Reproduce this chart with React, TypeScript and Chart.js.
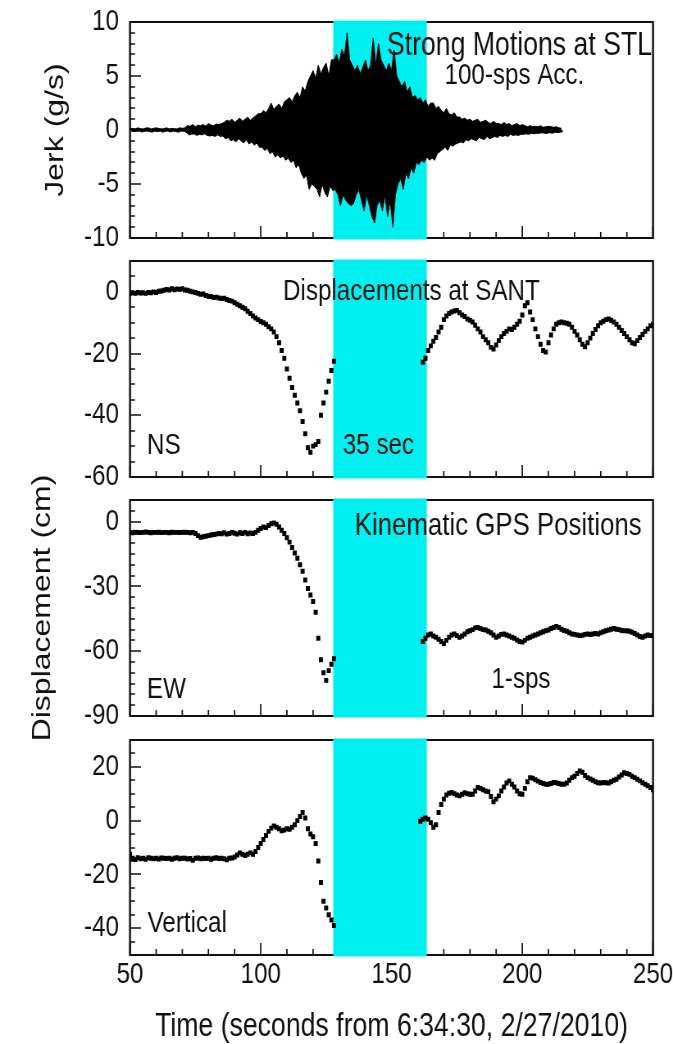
import React, { useEffect, useRef } from 'react';
import { Chart, registerables } from 'chart.js';

Chart.register(...registerables);

// ---------------- data ----------------
const timeMin = 50;
const timeMax = 250;
const xTickStep = 10;
const xTickLabels = [50, 100, 150, 200, 250];
const xTitle = 'Time (seconds from 6:34:30, 2/27/2010)';
const gapStart = 127.7;
const gapEnd = 163.5;

// jerk envelope, one value per second starting at jerkStart (100-sps record summarised by its peaks)
const jerkStart = 50;
const jerkUpper = [
  0.12, 0.15, 0.1, 0.2, 0.12, 0.1, 0.18, 0.2, 0.1, 0.15,
  0.2, 0.15, 0.1, 0.12, 0.2, 0.1, 0.15, 0.12, 0.1, 0.2,
  0.15, 0.2, 0.4, 0.35, 0.5, 0.3, 0.45, 0.4, 0.5, 0.35,
  0.6, 0.45, 0.4, 0.55, 0.5, 0.6, 0.7, 0.9, 0.8, 1.0,
  0.7, 0.9, 1.1, 0.8, 1.0, 1.2, 0.9, 1.1, 1.3, 1.5,
  1.5, 1.8, 1.6, 2.0, 2.5, 1.9, 2.2, 2.4, 2.0, 2.6,
  2.8, 3.0, 2.6, 3.2, 3.5, 3.0, 4.0, 3.6, 4.5, 5.0,
  5.5, 4.8, 6.0, 5.2, 5.8, 6.2, 5.0, 6.5, 6.5, 7.0,
  6.2, 7.5, 6.8, 9.0, 6.5, 6.0, 5.5, 6.0, 5.2, 5.8,
  6.5, 5.5, 6.0, 8.5, 6.0, 8.0, 6.5, 6.0, 5.5, 6.2,
  5.5, 7.4, 5.0, 4.5, 4.0, 4.5, 3.5, 4.0, 3.0, 3.2,
  2.8, 3.0, 2.5, 2.8, 2.2, 2.5, 2.5, 2.0, 2.2, 1.8,
  1.6, 2.0, 1.5, 1.4, 1.6, 1.2, 1.2, 1.0, 1.1, 0.9,
  1.0, 0.8, 0.9, 1.0, 0.7, 0.8, 0.9, 0.7, 0.6, 0.8,
  0.6, 0.6, 0.5, 0.7, 0.5, 0.6, 0.4, 0.5, 0.6, 0.4,
  0.5, 0.4, 0.3, 0.4, 0.3, 0.35, 0.3, 0.4, 0.25, 0.3,
  0.35, 0.3, 0.25, 0.3, 0.2, 0.15,
];
const jerkLower = [
  -0.1, -0.15, -0.12, -0.1, -0.18, -0.12, -0.1, -0.15, -0.2, -0.1,
  -0.15, -0.1, -0.2, -0.12, -0.1, -0.18, -0.1, -0.15, -0.2, -0.1,
  -0.12, -0.2, -0.45, -0.4, -0.35, -0.5, -0.4, -0.45, -0.35, -0.5,
  -0.55, -0.5, -0.6, -0.45, -0.6, -0.55, -0.8, -0.7, -1.0, -0.9,
  -1.1, -0.8, -1.0, -1.2, -0.9, -1.3, -1.1, -1.4, -1.2, -1.6,
  -1.6, -1.9, -1.7, -2.2, -2.0, -2.5, -2.3, -2.6, -2.4, -2.8,
  -2.6, -3.0, -2.8, -3.5, -3.2, -4.0, -4.5, -4.2, -5.5, -5.0,
  -5.2, -5.5, -6.2, -5.0, -5.8, -6.2, -5.2, -5.6, -5.5, -6.0,
  -7.0, -6.0, -6.5, -6.8, -7.0, -6.8, -6.0, -5.5, -6.5, -7.5,
  -6.0, -7.0, -8.0, -8.6, -7.0, -6.5, -7.5, -6.0, -8.0, -6.5,
  -9.0, -6.0, -5.0, -4.5, -5.5, -4.0, -4.5, -3.5, -4.0, -3.0,
  -3.2, -2.8, -3.0, -2.5, -2.8, -2.6, -2.8, -2.2, -2.0, -1.8,
  -1.6, -1.9, -1.4, -1.5, -1.3, -1.2, -1.1, -1.2, -0.9, -1.0,
  -0.8, -0.9, -1.0, -0.7, -0.8, -0.9, -0.6, -0.8, -0.7, -0.6,
  -0.7, -0.5, -0.6, -0.5, -0.6, -0.4, -0.5, -0.45, -0.5, -0.4,
  -0.4, -0.35, -0.4, -0.3, -0.35, -0.3, -0.3, -0.25, -0.3, -0.3,
  -0.25, -0.3, -0.2, -0.25, -0.2, -0.15,
];

// 1-sps kinematic GPS displacements (cm)
const preStart = 50; // first sample before the gap
const nsPostStart = 162;
const ewPostStart = 162;
const upPostStart = 161;

const nsPre = [
  -0.5, -0.3, -0.5, -0.2, -0.4, -0.3, -0.5, -0.2, -0.3, 0,
  -0.2, 0.2, 0.3, 0.5, 0.8, 0.6, 1.0, 0.7, 0.9, 0.8,
  1.0, 0.6, 0.5, 0.2, 0, -0.2, -0.5, -0.8, -0.7, -1.2,
  -1.4, -1.5, -1.8, -1.7, -2.0, -2.2, -2.1, -2.5, -2.8, -3.0,
  -3.5, -4.0, -4.5, -5.0, -5.5, -6.3, -7.0, -7.8, -8.5, -9.0,
  -9.6, -10.0, -10.5, -11.3, -12.0, -13.0, -14.5, -16.5, -19.0, -21.5,
  -25.0, -28.0, -31.0, -33.5, -36.0, -38.5, -42.0, -46.0, -50.5, -52.0,
  -50.0, -49.5, -48.5, -40.0, -36.0, -32.5, -29.0, -25.5, -22.5,
];
const nsPost = [
  -22.8, -21.5, -19.0, -17.5, -16.0, -14.8, -13.0, -11.5, -9.0, -7.8,
  -7.0, -6.5, -6.2, -6.0, -6.8, -7.5, -8.0, -8.8, -9.2, -9.8,
  -10.8, -12.0, -13.0, -14.5, -15.5, -16.5, -18.0, -18.5, -17.2, -15.8,
  -14.5, -13.5, -12.8, -12.0, -12.2, -11.5, -10.5, -9.5, -7.5, -4.5,
  -3.5, -6.5, -9.0, -12.0, -14.5, -17.0, -19.0, -19.5, -16.5, -14.0,
  -12.0, -10.5, -10.0, -9.8, -10.0, -10.2, -10.5, -11.5, -12.8, -14.0,
  -15.5, -17.0, -17.8, -16.5, -15.0, -13.5, -12.2, -11.0, -10.0, -9.5,
  -9.0, -8.8, -9.2, -9.8, -10.5, -11.5, -12.5, -13.5, -14.5, -15.5,
  -16.5, -16.8, -15.8, -14.8, -13.8, -12.8, -12.0, -11.0, -10.5,
];
const ewPre = [
  -5.0, -5.2, -4.9, -5.0, -5.1, -5.0, -4.8, -5.0, -5.2, -5.0,
  -5.0, -4.9, -5.1, -5.0, -5.0, -5.2, -4.9, -5.0, -5.0, -5.1,
  -5.0, -4.9, -5.0, -5.2, -5.0, -5.5, -6.5, -7.2, -7.0, -6.8,
  -6.5, -6.2, -6.0, -5.8, -5.5, -5.6, -5.2, -5.8, -5.5, -5.0,
  -5.4, -5.8, -5.2, -5.5, -5.0, -5.6, -5.3, -5.5, -5.0, -4.0,
  -3.2, -2.5, -2.8, -1.8, -1.0, -0.6, -1.2, -2.5, -4.0, -5.5,
  -7.5, -9.5, -12.0, -14.5, -17.0, -20.0, -23.0, -27.0, -31.0, -34.0,
  -37.0, -42.0, -54.0, -64.0, -70.0, -73.5, -69.0, -66.0, -63.5,
];
const ewPost = [
  -55.5, -54.0, -52.5, -52.0, -53.0, -53.5, -54.5, -55.5, -56.5, -55.0,
  -53.5, -52.5, -52.0, -52.8, -53.5, -53.0, -52.0, -51.0, -50.5, -50.0,
  -49.2, -49.0, -49.5, -50.0, -50.2, -50.8, -51.5, -52.5, -53.5, -53.0,
  -52.2, -52.0, -52.5, -53.0, -53.5, -54.0, -54.8, -55.5, -55.8, -55.0,
  -54.0, -53.5, -53.0, -52.5, -52.0, -51.5, -51.0, -50.5, -50.2, -49.5,
  -49.0, -48.5, -49.0, -49.8, -50.4, -50.8, -51.5, -52.0, -52.2, -52.5,
  -52.8, -52.6, -52.2, -52.0, -52.3, -52.0, -51.8, -52.0, -51.5, -51.0,
  -50.5, -50.2, -49.8, -49.5, -49.8, -50.0, -50.4, -50.6, -50.5, -50.8,
  -51.2, -51.8, -52.5, -53.2, -53.5, -53.0, -52.5, -52.8, -52.7,
];
const upPre = [
  -12.5, -14.0, -14.5, -13.8, -14.2, -14.0, -14.4, -13.8, -14.0, -14.2,
  -14.0, -14.3, -13.9, -14.0, -14.1, -14.0, -14.4, -14.0, -13.8, -14.2,
  -14.0, -14.0, -14.3, -14.1, -14.8, -14.0, -13.9, -14.2, -14.0, -14.1,
  -14.0, -14.4, -14.0, -13.8, -14.1, -14.0, -14.2, -14.6, -14.0, -13.9,
  -13.5, -12.8, -12.0, -12.5, -13.0, -12.5, -12.0, -12.5, -11.5, -10.0,
  -8.5, -7.0, -5.5, -4.0, -2.8, -2.0, -2.5, -3.0, -3.8, -3.5,
  -3.0, -3.2, -2.5, -1.5, 0.0, 1.5, 3.0, 1.0, -3.0, -5.0,
  -6.0, -8.5, -15.0, -23.0, -30.0, -32.5, -35.0, -37.0, -39.0,
];
const upPost = [
  -0.2, 0.5, 1.0, 0.5, -0.8, -2.5, -1.5, 3.0, 6.0, 8.0,
  9.5, 10.2, 10.5, 10.0, 9.5, 9.2, 9.8, 10.4, 10.0, 9.8,
  9.8, 11.0, 12.3, 12.0, 11.5, 11.0, 10.8, 9.0, 7.0, 8.0,
  9.2, 11.0, 12.5, 14.0, 14.8, 13.5, 12.5, 11.0, 10.0, 9.8,
  12.0, 14.5, 16.0, 15.8, 15.2, 14.7, 14.2, 13.8, 13.5, 13.5,
  13.8, 14.2, 14.1, 13.8, 13.5, 13.5, 14.0, 15.0, 16.0, 16.5,
  17.5, 18.5, 18.0, 16.8, 16.0, 15.5, 15.0, 14.5, 14.1, 14.0,
  14.2, 14.1, 14.0, 14.5, 15.0, 15.4, 16.2, 17.0, 17.8, 17.5,
  17.2, 16.5, 16.0, 15.4, 14.8, 14.1, 13.5, 13.0, 12.3, 11.5,
];

// y tick labels per panel
const jerkTickLabels = [10, 5, 0, -5, -10];
const nsTickLabels = [0, -20, -40, -60];
const ewTickLabels = [0, -30, -60, -90];
const upTickLabels = [20, 0, -20, -40];

// ---------------- styling ----------------
// The figure's lettering is tall and narrow: each canvas is drawn wider and squeezed horizontally.
const VW = 821; // virtual canvas width
const PAGE_W = 673;
const SX = PAGE_W / VW; // horizontal squeeze
const vx = (px: number) => px / SX; // page px -> virtual px (horizontal)
const FONT = '"Liberation Sans", Arial, sans-serif';
const INK = '#111111';
const CYAN = '#00f0f0';
const PAD = 24;
const PLOT_LEFT = 130;
const PLOT_RIGHT = 653;

type Pt = { x: number; y: number };
type Note = { text: string; x: number; y: number; align: CanvasTextAlign; size: number };
type PanelSpec = {
  top: number;
  height: number;
  yMin: number;
  yMax: number;
  yStep: number;
  yLabels: number[];
  yTitle?: string;
  yTitleCenter?: number;
  datasets: any[];
  notes: Note[];
  bottom?: boolean;
};

function series(start: number, values: number[]): Pt[] {
  return values.map((v, i) => ({ x: start + i, y: v }));
}

function envelope(values: number[], offset: number) {
  return {
    data: values.map((v, i) => ({ x: jerkStart + i + offset, y: v })),
    showLine: true,
    borderColor: '#000',
    backgroundColor: '#000',
    borderWidth: 1,
    pointRadius: 0,
    tension: 0,
    fill: 'origin',
  };
}

function dots(pre: Pt[], post: Pt[]) {
  return {
    data: pre.concat(post),
    showLine: false,
    pointStyle: 'rect',
    pointRadius: 3.5,
    pointBackgroundColor: '#000',
    pointBorderWidth: 0,
    pointHoverRadius: 3.5,
  };
}

const panels: PanelSpec[] = [
  {
    top: 22,
    height: 216,
    yMin: -10,
    yMax: 10,
    yStep: 1,
    yLabels: jerkTickLabels,
    yTitle: 'Jerk (g/s)',
    yTitleCenter: 56,
    datasets: [envelope(jerkUpper, 0), envelope(jerkLower, 0.5)],
    notes: [
      { text: 'Strong Motions at STL', x: 249.6, y: 6.9, align: 'right', size: 32.5 },
      { text: '100-sps Acc.', x: 197, y: 4.3, align: 'center', size: 29.5 },
    ],
  },
  {
    top: 261,
    height: 216,
    yMin: -60,
    yMax: 10,
    yStep: 5,
    yLabels: nsTickLabels,
    datasets: [dots(series(preStart, nsPre), series(nsPostStart, nsPost))],
    notes: [
      { text: 'Displacements at SANT', x: 157.6, y: -2.6, align: 'center', size: 29.5 },
      { text: 'NS', x: 56.5, y: -52.6, align: 'left', size: 29.5 },
      { text: '35 sec', x: 145, y: -52.6, align: 'center', size: 29.5 },
    ],
  },
  {
    top: 500,
    height: 216,
    yMin: -90,
    yMax: 10,
    yStep: 5,
    yLabels: ewTickLabels,
    yTitle: 'Displacement (cm)',
    yTitleCenter: 43,
    datasets: [dots(series(preStart, ewPre), series(ewPostStart, ewPost))],
    notes: [
      { text: 'Kinematic GPS Positions', x: 190.8, y: -6, align: 'center', size: 31.5 },
      { text: 'EW', x: 56.5, y: -81.8, align: 'left', size: 29.5 },
      { text: '1-sps', x: 199.5, y: -77, align: 'center', size: 29.5 },
    ],
  },
  {
    top: 740,
    height: 215,
    yMin: -50,
    yMax: 30,
    yStep: 5,
    yLabels: upTickLabels,
    datasets: [dots(series(preStart, upPre), series(upPostStart, upPost))],
    notes: [{ text: 'Vertical', x: 56.7, y: -41.4, align: 'left', size: 29.5 }],
    bottom: true,
  },
];

function makeDecor(spec: PanelSpec) {
  return {
    id: 'panelDecor',
    beforeDatasetsDraw(chart: any) {
      const { ctx, chartArea: a } = chart;
      const xs = chart.scales.x;
      const ys = chart.scales.y;
      ctx.save();
      ctx.strokeStyle = INK;
      // y ticks (horizontal strokes, inward)
      ctx.lineWidth = 1.4;
      ctx.beginPath();
      for (const t of ys.ticks) {
        const p = Math.round(ys.getPixelForValue(t.value));
        const len = vx(spec.yLabels.includes(t.value) ? 11 : 5);
        ctx.moveTo(a.left, p);
        ctx.lineTo(a.left + len, p);
      }
      ctx.stroke();
      // x ticks (vertical strokes, inward)
      ctx.lineWidth = vx(1.4);
      ctx.beginPath();
      for (const t of xs.ticks) {
        const p = xs.getPixelForValue(t.value);
        const len = xTickLabels.includes(t.value) ? 12 : 6;
        ctx.moveTo(p, a.bottom);
        ctx.lineTo(p, a.bottom - len);
      }
      ctx.stroke();
      // frame
      ctx.lineWidth = 2;
      ctx.beginPath();
      ctx.moveTo(a.left, a.top);
      ctx.lineTo(a.right, a.top);
      ctx.moveTo(a.left, a.bottom);
      ctx.lineTo(a.right, a.bottom);
      ctx.stroke();
      ctx.lineWidth = vx(2);
      ctx.beginPath();
      ctx.moveTo(a.left, a.top - 1);
      ctx.lineTo(a.left, a.bottom + 1);
      ctx.moveTo(a.right, a.top - 1);
      ctx.lineTo(a.right, a.bottom + 1);
      ctx.stroke();
      // 35-second gap band
      const x0 = xs.getPixelForValue(gapStart);
      const x1 = xs.getPixelForValue(gapEnd);
      ctx.fillStyle = CYAN;
      ctx.fillRect(x0, a.top - 1.5, x1 - x0, a.bottom - a.top + 3);
      ctx.restore();
    },
    afterDatasetsDraw(chart: any) {
      const { ctx } = chart;
      const xs = chart.scales.x;
      const ys = chart.scales.y;
      ctx.save();
      ctx.fillStyle = INK;
      ctx.textBaseline = 'alphabetic';
      for (const n of spec.notes) {
        ctx.font = `${n.size}px ${FONT}`;
        ctx.textAlign = n.align;
        ctx.fillText(n.text, xs.getPixelForValue(n.x), ys.getPixelForValue(n.y));
      }
      ctx.restore();
    },
  };
}

function Panel({ spec }: { spec: PanelSpec }) {
  const ref = useRef<HTMLCanvasElement>(null);
  const canvasTop = spec.top - PAD;
  const canvasH = spec.bottom ? 1044 - canvasTop : spec.height + 2 * PAD;

  useEffect(() => {
    if (!ref.current) return;
    const titleFont = 32;
    const chart = new Chart(ref.current, {
      type: 'scatter',
      data: { datasets: spec.datasets },
      options: {
        animation: false,
        responsive: false,
        maintainAspectRatio: false,
        devicePixelRatio: 1,
        events: [],
        layout: {
          padding: { left: 0, right: vx(PAGE_W - PLOT_RIGHT), top: PAD, bottom: spec.bottom ? 0 : PAD },
        },
        plugins: { legend: { display: false }, tooltip: { enabled: false } },
        scales: {
          x: {
            type: 'linear',
            min: timeMin,
            max: timeMax,
            grid: { display: false, drawTicks: false },
            border: { display: false },
            ticks: {
              display: !!spec.bottom,
              stepSize: xTickStep,
              autoSkip: false,
              maxRotation: 0,
              padding: 2,
              color: INK,
              font: { family: FONT, size: 29.5 },
              callback: (v: any) => (xTickLabels.includes(Number(v)) ? String(v) : ''),
            },
            title: {
              display: !!spec.bottom,
              text: xTitle,
              color: INK,
              font: { family: FONT, size: 32.5, lineHeight: 1 },
              padding: { top: 0, bottom: 1 },
            },
            afterFit: (s: any) => {
              s.height = spec.bottom ? 89 : 0;
              s.paddingLeft = 0;
              s.paddingRight = 0;
            },
          },
          y: {
            type: 'linear',
            min: spec.yMin,
            max: spec.yMax,
            grid: { display: false, drawTicks: false },
            border: { display: false },
            ticks: {
              stepSize: spec.yStep,
              autoSkip: false,
              padding: vx(11),
              color: INK,
              font: { family: FONT, size: 29.5 },
              callback: (v: any) => (spec.yLabels.includes(Number(v)) ? String(v) : ''),
            },
            title: {
              display: !!spec.yTitle,
              text: spec.yTitle || '',
              color: INK,
              font: { family: FONT, size: titleFont },
              padding: { top: vx(spec.yTitleCenter || 0) - (titleFont * 1.2) / 2, bottom: 0 },
            },
            afterFit: (s: any) => {
              s.width = vx(PLOT_LEFT);
              s.paddingTop = 0;
              s.paddingBottom = 0;
            },
          },
        },
      },
      plugins: [makeDecor(spec)],
    } as any);
    return () => chart.destroy();
  }, []);

  return (
    <canvas
      ref={ref}
      width={VW}
      height={canvasH}
      style={{ position: 'absolute', left: 0, top: canvasTop, width: PAGE_W, height: canvasH }}
    />
  );
}

export default function App() {
  return (
    <div
      style={{ position: 'absolute', left: 0, top: 0, width: PAGE_W, height: 1044, background: '#fff', overflow: 'hidden' }}
    >
      {panels.map((p, i) => (
        <Panel key={i} spec={p} />
      ))}
    </div>
  );
}
